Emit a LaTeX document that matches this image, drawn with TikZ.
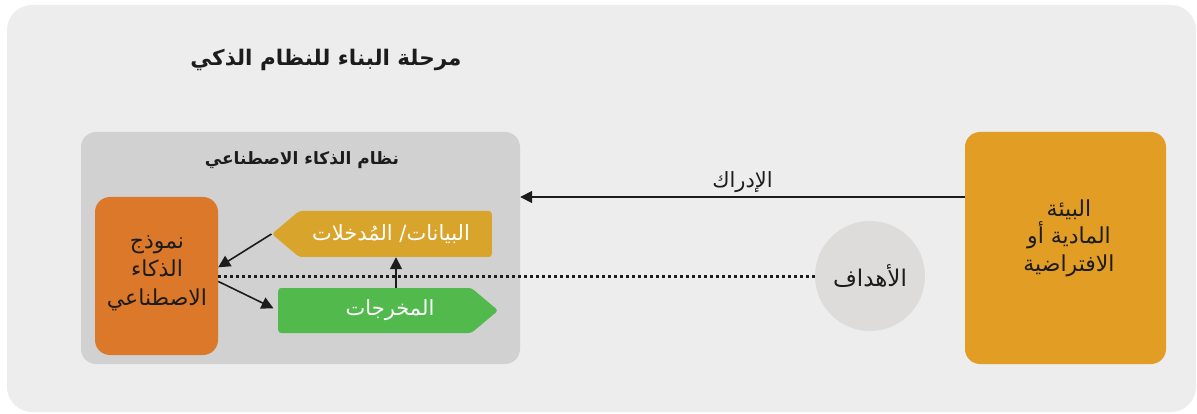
\documentclass[tikz,border=0pt]{standalone}
\usepackage{fontspec}
\usepackage{tikz}
\usetikzlibrary{arrows.meta,shapes.symbols}
\newfontfamily\arabicfont[Script=Arabic]{DejaVu Sans}
\TeXXeTstate=1

\definecolor{bgcol}{HTML}{ECEDEC}
\definecolor{syscol}{HTML}{D0D1D0}
\definecolor{modelcol}{HTML}{DC7829}
\definecolor{inputcol}{HTML}{D8A42B}
\definecolor{outputcol}{HTML}{52BA4D}
\definecolor{goalcol}{HTML}{DDDCDB}
\definecolor{envcol}{HTML}{E29D24}
\definecolor{inkcol}{HTML}{1C1C1C}

\tikzset{
  box/.style={rounded corners=15pt, text=inkcol, align=center,
    font=\arabicfont\fontsize{22}{28}\selectfont},
  tagbox/.style={shape=signal, signal pointer angle=80, rounded corners=3pt, inner sep=0pt},
  tagtext/.style={text=white, font=\arabicfont\fontsize{21}{24}\selectfont},
  link/.style={-{Triangle[length=12pt,width=12pt]}, line width=1.6pt, draw=inkcol},
  goalline/.style={line width=3pt, draw=inkcol, dash pattern=on 3pt off 3pt}
}

\begin{document}
\begin{tikzpicture}[x=1pt,y=-1pt]
\useasboundingbox (0,0) rectangle (1197,414);
%%%%%%%%%%%%%%%%%%Draw Background Panel%%%%%%%%%%%%%%%
\fill[bgcol, rounded corners=25pt] (7,5) rectangle (1196,412);
\node[text=inkcol, font=\arabicfont\bfseries\fontsize{21.5}{24}\selectfont] (stage) at (326,60) {\beginR مرحلة البناء للنظام الذكي\endR};

%%%%%%%%%%%%%%%%%%Draw The AI System Box%%%%%%%%%%%%%%%%
\node[box, fill=syscol, minimum width=439pt, minimum height=232pt] (system) at (300.5,248) {};
\node[text=inkcol, font=\arabicfont\bfseries\fontsize{17}{20}\selectfont] (systitle) at (302,160) {\beginR نظام الذكاء الاصطناعي\endR};

%%%%%%%%%%%%%%%%%%Draw The Model, Inputs and Outputs%%%%%%%%%%%%%%%%
\node[box, fill=modelcol, minimum width=123pt, minimum height=158pt] (model) at (156.5,276) {};
\node[box, font=\arabicfont\fontsize{22}{28.5}\selectfont] (modeltext) at (157,273) {\beginR نموذج\endR\\ \beginR الذكاء\endR\\ \beginR الاصطناعي\endR};
\node[tagbox, signal to=west, fill=inputcol, minimum width=220pt, minimum height=46pt, anchor=east] (input) at (492,234) {};
\node[tagtext] (inputtext) at (391,234) {\beginR البيانات/ المُدخلات\endR};
\node[tagbox, signal to=east, fill=outputcol, minimum width=220pt, minimum height=45pt, anchor=west] (output) at (278,310.5) {};
\node[tagtext] (outputtext) at (390,310) {\beginR المخرجات\endR};

%%%%%%%%%%%%%%%%%%Draw The Environment and Goals%%%%%%%%%%%%%%%%
\node[box, fill=envcol, minimum width=201pt, minimum height=232pt] (env) at (1065.5,248) {};
\node[box, font=\arabicfont\fontsize{22}{27.5}\selectfont] (envtext) at (1069,238) {\beginR البيئة\endR\\ \beginR المادية أو\endR\\ \beginR الافتراضية\endR};
\node[circle, fill=goalcol, minimum size=110pt, inner sep=0pt, text=inkcol, font=\arabicfont\fontsize{23}{26}\selectfont] (goals) at (870,276) {\beginR الأهداف\endR};

%%%%%%%%%%%%%%%%%%Draw The Connectors%%%%%%%%%%%%%%%%
\draw[goalline] (model.east) -- (goals.west);
\draw[link] (input.west) -- (model.8);
\draw[link, shorten >=5pt] (model.-5) -- (output.west);
\draw[link] (396,0 |- output.north) -- (396,0 |- input.south);
\draw[link] ([yshift=51pt]env.west) -- ([yshift=51pt]env.west -| system.east)
  node[midway, above=0pt, text=inkcol, font=\arabicfont\fontsize{21}{24}\selectfont] (perceive) {\beginR الإدراك\endR};

\end{tikzpicture}
\end{document}
